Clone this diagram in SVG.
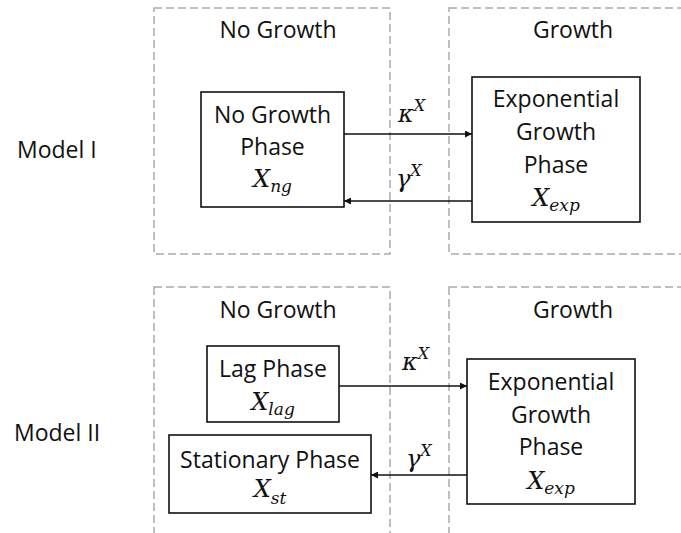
<svg xmlns="http://www.w3.org/2000/svg" width="681" height="533" viewBox="0 0 681 533">
<defs>
<style>
.t{font-family:"Open Sans","Liberation Sans",sans-serif;font-size:23px;fill:#111;text-anchor:middle}
.lbl{font-family:"Open Sans","Liberation Sans",sans-serif;font-size:23px;fill:#111}
.m{font-family:"DejaVu Serif","Liberation Serif",serif;font-style:italic;font-size:24px;fill:#111}
.mc{text-anchor:middle}
.sub{font-size:17px}
.sup{font-size:16px}
.zone{fill:none;stroke:#ababab;stroke-width:1.5;stroke-dasharray:8 4}
.box{fill:#fff;stroke:#111;stroke-width:1.6}
.edge{fill:none;stroke:#111;stroke-width:1.3}
</style>
<marker id="ah" viewBox="0 0 10 10" refX="10" refY="5" markerWidth="7" markerHeight="7" markerUnits="userSpaceOnUse" orient="auto">
<path d="M0,0 L10,5 L0,10 z" fill="#111"/>
</marker>
</defs>
<rect width="681" height="533" fill="#fff"/>
<g id="zones">
<rect class="zone" x="154" y="8" width="236" height="246"/>
<rect class="zone" x="449" y="8" width="260" height="246"/>
<rect class="zone" x="154" y="287" width="236" height="260"/>
<rect class="zone" x="449" y="287" width="260" height="260"/>
<text class="t" x="278" y="38">No Growth</text>
<text class="t" x="573" y="38">Growth</text>
<text class="t" x="278" y="318">No Growth</text>
<text class="t" x="573" y="318">Growth</text>
</g>
<text class="lbl" x="17" y="158">Model I</text>
<text class="lbl" x="14" y="441">Model II</text>
<g id="connectors">
<line class="edge" x1="344" y1="134" x2="472" y2="134" marker-end="url(#ah)"/>
<line class="edge" x1="472" y1="201" x2="344" y2="201" marker-end="url(#ah)"/>
<line class="edge" x1="339" y1="386" x2="467" y2="386" marker-end="url(#ah)"/>
<line class="edge" x1="467" y1="475" x2="371" y2="475" marker-end="url(#ah)"/>
<text class="m" x="398" y="122">κ<tspan class="sup" dy="-11">X</tspan></text>
<text class="m" x="396" y="187">γ<tspan class="sup" dy="-11">X</tspan></text>
<text class="m" x="402" y="370">κ<tspan class="sup" dy="-11">X</tspan></text>
<text class="m" x="406" y="467">γ<tspan class="sup" dy="-11">X</tspan></text>
</g>
<g id="ng1">
<rect class="box" x="201" y="92" width="143" height="115"/>
<text class="t" x="272.5" y="123">No Growth</text>
<text class="t" x="272.5" y="155">Phase</text>
<text class="m mc" x="272.5" y="187">X<tspan class="sub" dy="5">ng</tspan></text>
</g>
<g id="exp1">
<rect class="box" x="472" y="77" width="168" height="145"/>
<text class="t" x="556" y="107">Exponential</text>
<text class="t" x="556" y="140">Growth</text>
<text class="t" x="556" y="173">Phase</text>
<text class="m mc" x="556" y="206">X<tspan class="sub" dy="5">exp</tspan></text>
</g>
<g id="lag">
<rect class="box" x="207" y="346" width="132" height="76"/>
<text class="t" x="273" y="377">Lag Phase</text>
<text class="m mc" x="273" y="410">X<tspan class="sub" dy="5">lag</tspan></text>
</g>
<g id="st">
<rect class="box" x="169" y="435" width="202" height="78"/>
<text class="t" x="270" y="468">Stationary Phase</text>
<text class="m mc" x="270" y="497">X<tspan class="sub" dy="7">st</tspan></text>
</g>
<g id="exp2">
<rect class="box" x="467" y="359" width="168" height="145"/>
<text class="t" x="551" y="390">Exponential</text>
<text class="t" x="551" y="423">Growth</text>
<text class="t" x="551" y="455">Phase</text>
<text class="m mc" x="551" y="489">X<tspan class="sub" dy="5">exp</tspan></text>
</g>
</svg>
